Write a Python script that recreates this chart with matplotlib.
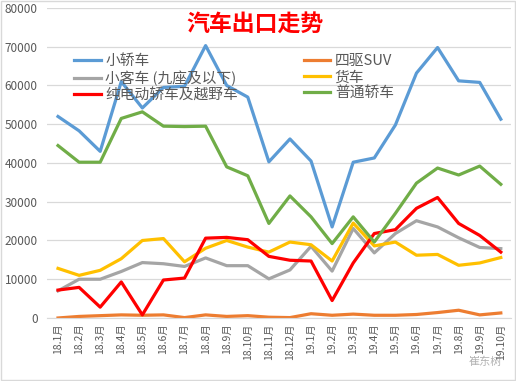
import matplotlib
matplotlib.use('Agg')
import matplotlib.pyplot as plt
from matplotlib.patches import Rectangle

plt.rcParams['font.family'] = ['Noto Sans CJK SC', 'DejaVu Sans']

months = ['18.1月', '18.2月', '18.3月', '18.4月', '18.5月', '18.6月', '18.7月', '18.8月',
          '18.9月', '18.10月', '18.11月', '18.12月', '19.1月', '19.2月', '19.3月', '19.4月',
          '19.5月', '19.6月', '19.7月', '19.8月', '19.9月', '19.10月']

sedan = [52000, 48300, 43000, 61000, 54200, 59500, 59800, 70300, 60000, 57000, 40300,
         46200, 40500, 23500, 40200, 41300, 49800, 63200, 69800, 61200, 60800, 51300]
suv4wd = [0, 400, 600, 800, 700, 800, 100, 800, 400, 600, 200,
          100, 1100, 700, 1000, 700, 700, 900, 1400, 2000, 800, 1300]
minibus = [7000, 10000, 10000, 12000, 14300, 14000, 13300, 15500, 13500, 13500, 10100,
           12400, 18500, 12100, 23100, 16800, 21800, 25100, 23500, 20700, 18200, 17900]
truck = [12800, 11000, 12300, 15300, 20000, 20500, 14500, 18000, 20000, 18300, 17000,
         19600, 18900, 14700, 24500, 18600, 19600, 16200, 16400, 13600, 14200, 15600]
ev = [7200, 7900, 2800, 9300, 800, 9800, 10300, 20600, 20800, 20200, 15900,
      14900, 14700, 4500, 14200, 21800, 22800, 28300, 31100, 24400, 21300, 17000]
ordinary = [44500, 40200, 40200, 51500, 53200, 49500, 49400, 49500, 39000, 36700, 24400,
            31500, 26100, 19200, 26100, 19600, 27000, 34800, 38700, 36900, 39200, 34500]

fig = plt.figure(figsize=(5.16, 3.81), dpi=100)
ax = fig.add_axes([0.092, 0.1654, 0.899, 0.8136])

x = range(len(months))
lw = 2.3
l1, = ax.plot(x, sedan, color='#5B9BD5', lw=lw, label='小轿车')
l2, = ax.plot(x, suv4wd, color='#ED7D31', lw=lw, label='四驱SUV')
l3, = ax.plot(x, minibus, color='#A5A5A5', lw=lw, label='小客车 (九座及以下)')
l4, = ax.plot(x, truck, color='#FFC000', lw=lw, label='货车')
l5, = ax.plot(x, ev, color='#FF0000', lw=lw, label='纯电动轿车及越野车')
l6, = ax.plot(x, ordinary, color='#70AD47', lw=lw, label='普通轿车')

ax.set_xlim(-0.5, len(months) - 0.5)
ax.set_ylim(0, 80000)
ax.set_yticks(range(0, 80001, 10000))
ax.set_xticks(list(x))
ax.set_xticklabels(months, rotation=90, fontsize=7.5, color='#595959')
ax.tick_params(axis='y', labelsize=8.5, colors='#595959', length=0, pad=7)
ax.tick_params(axis='x', length=0, pad=4)
ax.grid(axis='y', color='#d9d9d9', lw=0.9)
ax.set_axisbelow(True)
for s in ['top', 'right', 'left']:
    ax.spines[s].set_visible(False)
ax.spines['bottom'].set_color('#d9d9d9')

leg_kw = dict(frameon=False, fontsize=10.6, handlelength=1.8, handletextpad=0.3,
              labelspacing=0.15, borderaxespad=0, labelcolor='#595959')
leg1 = ax.legend(handles=[l1, l3, l5], loc='upper left',
                 bbox_to_anchor=(0.045, 0.87), **leg_kw)
ax.add_artist(leg1)
ax.legend(handles=[l2, l4, l6], loc='upper left',
          bbox_to_anchor=(0.54, 0.87), **leg_kw)

fig.text(0.495, 0.935, '汽车出口走势', color='#FF0000', fontsize=16.5,
         fontweight='bold', ha='center', va='center')
fig.text(0.94, 0.05, '崔东树', color='#808080', fontsize=8, alpha=0.6,
         ha='center', va='center')

fig.patches.append(Rectangle((0.001, 0.002), 0.997, 0.995, transform=fig.transFigure,
                             fill=False, edgecolor='#d9d9d9', lw=1))

fig.savefig('out.png', dpi=100)
